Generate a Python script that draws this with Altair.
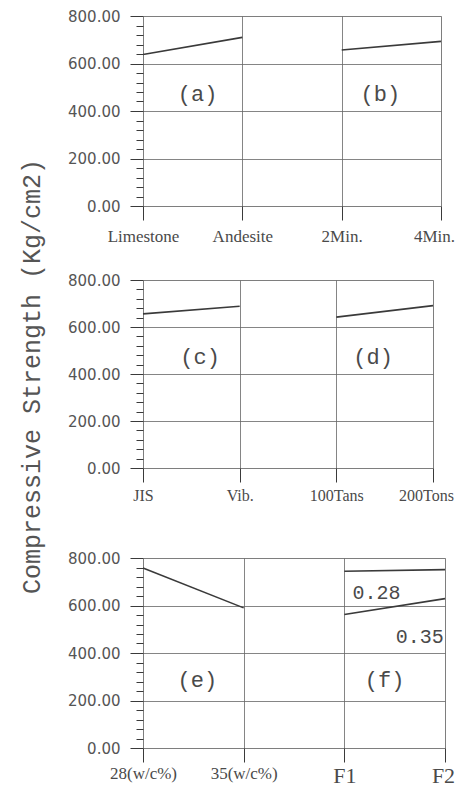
import json
import altair as alt
import pandas as pd

# ---- data ----
labels_1 = ["Limestone", "Andesite", "2Min.", "4Min."]
labels_2 = ["JIS", "Vib.", "100Tans", "200Tons"]
labels_3 = ["28(w/c%)", "35(w/c%)", "F1", "F2"]

pos = [0, 1, 2, 3]

# panel 1: (a) aggregate type, (b) mixing time
a_vals = [638, 710]
b_vals = [657, 693]
# panel 2: (c) compaction method, (d) pressure
c_vals = [656, 688]
d_vals = [642, 691]
# panel 3: (e) w/c ratio, (f) fineness at two w/c
e_vals = [758, 590]
f028_vals = [744, 751]
f035_vals = [562, 629]

panel_tags_1 = ["(a)", "(b)"]
panel_tags_2 = ["(c)", "(d)"]
panel_tags_3 = ["(e)", "(f)"]
tag_x_1 = [0.55, 2.39]
tag_y_1 = [470, 470]
tag_x_2 = [0.59, 2.38]
tag_y_2 = [471, 471]
tag_x_3 = [0.54, 2.40]
tag_y_3 = [287, 287]

series_tags = ["0.28", "0.35"]
series_tag_x = [2.32, 2.75]
series_tag_y = [651, 467]

y_ticks = list(range(0, 801, 40))

Y_TITLE = "Compressive Strength (Kg/cm2)"

INK = "#3a3a3a"
TXT = "#4a4a4a"


def line_df(groups):
    rows = []
    for name, xs, ys in groups:
        for x, y in zip(xs, ys):
            rows.append({"g": name, "x": x, "y": y})
    return pd.DataFrame(rows)


def panel(groups, xlabels, tags, tx, ty, width, height, label_pad, label_fs,
          last_shift, extra_df=None):
    df = line_df(groups)
    expr = json.dumps(xlabels) + "[datum.value]"
    x_axis = alt.Axis(
        values=pos, labelExpr=expr, title=None, grid=True,
        gridColor="#666", gridWidth=0.8, domain=False,
        tickSize=14, tickColor=INK, tickWidth=1,
        labelFont="Liberation Serif", labelFontSize=label_fs, labelColor=TXT,
        labelPadding=label_pad, labelFlush=False, labelOverlap=False,
        labelOffset={"condition": {"test": "datum.value === 3", "value": last_shift},
                     "value": 0},
    )
    y_axis = alt.Axis(
        values=y_ticks,
        labelExpr="datum.value % 200 === 0 ? format(datum.value, '.2f') : ''",
        labelOverlap=False,
        title=None,
        grid=True,
        gridColor="#666", gridWidth=0.8,
        gridOpacity={"condition": {"test": "datum.value % 200 === 0", "value": 1}, "value": 0},
        tickSize={"condition": {"test": "datum.value % 200 === 0", "value": 13}, "value": 7},
        tickColor=INK, tickWidth=1, domain=False,
        labelFont="DejaVu Sans", labelFontSize=15, labelColor="#555",
        labelPadding=10,
    )
    x_enc = alt.X("x:Q", scale=alt.Scale(domain=[0, 3], nice=False), axis=x_axis)
    y_enc = alt.Y("y:Q", scale=alt.Scale(domain=[0, 800], nice=False), axis=y_axis)
    lines = alt.Chart(df).mark_line(color=INK, strokeWidth=1.6).encode(
        x=x_enc, y=y_enc, detail="g:N"
    )
    tdf = pd.DataFrame({"t": tags, "x": tx, "y": ty})
    texts = alt.Chart(tdf).mark_text(
        font="Liberation Mono", fontSize=22, color=TXT
    ).encode(x=x_enc, y=y_enc, text="t:N")
    layers = [lines, texts]
    if extra_df is not None:
        layers.append(alt.Chart(extra_df).mark_text(
            font="Liberation Mono", fontSize=20, color=TXT
        ).encode(x=x_enc, y=y_enc, text="t:N"))
    return alt.layer(*layers).properties(width=width, height=height)


p1 = panel([("a", [0, 1], a_vals), ("b", [2, 3], b_vals)], labels_1,
           panel_tags_1, tag_x_1, tag_y_1, 298, 190, 8, 17, -7)
p2 = panel([("c", [0, 1], c_vals), ("d", [2, 3], d_vals)], labels_2,
           panel_tags_2, tag_x_2, tag_y_2, 290, 188, 5, 16, -7)
sdf = pd.DataFrame({"t": series_tags, "x": series_tag_x, "y": series_tag_y})
big = {"condition": {"test": "datum.value >= 2", "value": 22}, "value": 17}
p3 = panel([("e", [0, 1], e_vals), ("f028", [2, 3], f028_vals),
            ("f035", [2, 3], f035_vals)], labels_3,
           panel_tags_3, tag_x_3, tag_y_3, 302, 190, 3, big, -2,
           extra_df=sdf).properties(
    title=alt.TitleParams(" ", fontSize=14, offset=5))

chart = alt.vconcat(p1, p2, p3, spacing=27).properties(
    title=alt.TitleParams(
        Y_TITLE, orient="left", anchor="middle",
        font="Liberation Mono", fontSize=25, fontWeight="normal",
        color="#555", offset=22, dx=21,
    ),
    padding={"left": 12, "top": 0, "right": 0, "bottom": 0},
).configure_view(
    stroke="#222", strokeWidth=1.6
).configure(background="white")

chart.save("out.html", embed_options={"renderer": "svg", "actions": False})
